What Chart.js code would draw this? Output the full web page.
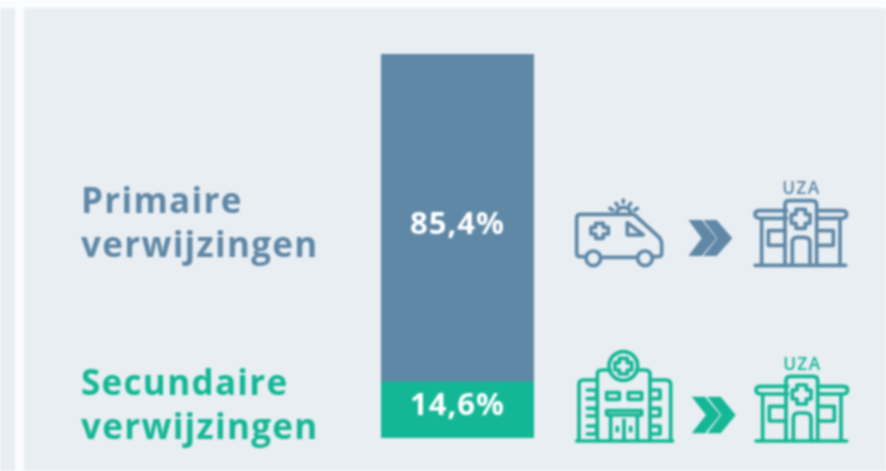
<!DOCTYPE html>
<html>
<head>
<meta charset="utf-8">
<script src="https://cdn.jsdelivr.net/npm/chart.js@4"></script>
<style>
  html, body { margin: 0; background: #fff; }
  #page { position: relative; width: 886px; height: 471px; overflow: hidden; background: #fbfcfd; filter: blur(0.8px); }
  .panel { position: absolute; top: 8px; bottom: 0; background: #e9eef3; }
  #chart { position: absolute; left: 0; top: 0; }
  .cat { position: absolute; left: 81px; font: 700 35px/44px "Open Sans", sans-serif; letter-spacing: 1.3px; }
  .icon { position: absolute; left: 560px; width: 300px; height: 110px; }
  .icon * { fill: none; stroke: currentColor; stroke-width: 11; stroke-linejoin: round; stroke-linecap: round; }
  .icon polygon { fill: currentColor; stroke: none; }
  #uza text { fill: currentColor; stroke: none; font: 600 52px "Open Sans", sans-serif; letter-spacing: 4px; text-anchor: middle; }
</style>
</head>
<body>
<div id="page">
  <div class="panel" style="left:0;width:15px"></div>
  <div class="panel" style="left:24px;right:0"></div>
  <canvas id="chart" width="886" height="471"></canvas>
  <div class="cat" style="top:178px;color:#5f88a6">Primaire<br>verwijzingen</div>
  <div class="cat" style="top:360px;color:#14b795">Secundaire<br>verwijzingen</div>

  <svg width="0" height="0" style="position:absolute">
    <symbol id="uza" viewBox="0 0 900 330" overflow="visible">
      <text x="724" y="72">UZA</text>
      <path d="M680 122H600Q585 122 585 133T600 145H680M770 122H845Q860 122 860 133T845 145H770"/>
      <path d="M675 285V105Q675 92 688 92H757Q770 92 770 105V285"/>
      <path d="M708 118H736V133H750V160H736V175H708V160H694V133H708Z"/>
      <path d="M605 150V285M840 150V285M585 286H857"/>
      <path d="M675 182H625V226H675M770 182H820V226H770"/>
      <path d="M697 285V218Q697 202 712 202H733Q750 202 750 218V285"/>
    </symbol>
  </svg>

  <svg class="icon" style="top:170px;color:#5f88a6" viewBox="0 0 900 330">
    <path d="M70 260H60Q50 260 50 250V145Q50 133 62 133H222L295 200Q305 210 305 222V250Q305 260 295 260H280M125 262H232"/>
    <circle cx="100" cy="265" r="22"/><circle cx="255" cy="265" r="22"/>
    <path d="M202 158L250 195H202Z"/>
    <path d="M107 160H130V172H145V192H130V205H107V192H93V172H107Z"/>
    <path d="M170 130Q172 112 190 112Q210 112 212 130M150 115L158 120M168 100L172 106M190 90V97M212 100L208 106M232 115L224 120"/>
    <polygon points="385,150 425,150 470,205 425,258 385,258 425,205"/>
    <polygon points="430,150 470,150 517,205 470,258 430,258 472,205"/>
    <use href="#uza" width="900" height="330"/>
  </svg>

  <svg class="icon" style="top:340px;color:#14b795" viewBox="0 0 900 330">
    <circle cx="190" cy="78" r="43"/>
    <path d="M178 55H202V68H215V90H202V102H178V90H165V68H178Z"/>
    <path d="M150 90H125Q112 90 112 103V300M230 90H255Q270 90 270 103V300"/>
    <path d="M112 120H70Q57 120 57 133V300M270 120H318Q332 120 332 133V300M50 303H338"/>
    <path d="M82 150H110V176H82M82 205H110V228H82M82 258H110V282H82M272 150H300V176H272M272 205H300V228H272M272 258H300V282H272"/>
    <path d="M140 158H178V178H140ZM205 158H245V178H205ZM140 212H245V225H140Z"/>
    <path d="M152 228V300M232 228V300M192 240V300M172 262V272M212 262V272"/>
    <polygon points="395,170 435,170 480,225 435,280 395,280 438,225"/>
    <polygon points="442,170 482,170 527,225 482,280 442,280 484,225"/>
    <use href="#uza" y="17" x="3" width="900" height="330"/>
  </svg>
</div>

<script>
const categories = ['Verwijzingen'];
const primair = [85.4];
const secundair = [14.6];
const primairLabel = ['85,4%'];
const secundairLabel = ['14,6%'];

// white percentages in each segment, nudged to where the reference has them
const barLabels = {
  id: 'barLabels',
  afterDatasetsDraw(chart) {
    const { ctx } = chart;
    ctx.save();
    ctx.fillStyle = '#fff';
    ctx.font = '700 31px "Open Sans", sans-serif';
    ctx.letterSpacing = '1px';
    ctx.textAlign = 'center';
    ctx.textBaseline = 'middle';
    chart.data.datasets.forEach((ds, i) => {
      const bar = chart.getDatasetMeta(i).data[0];
      ctx.fillText(ds.labelText[0], bar.x, (bar.y + bar.base) / 2 + ds.labelNudge);
    });
    ctx.restore();
  }
};

new Chart(document.getElementById('chart'), {
  type: 'bar',
  data: {
    labels: categories,
    datasets: [
      { label: 'Secundaire verwijzingen', data: secundair, labelText: secundairLabel, labelNudge: -4, backgroundColor: '#14b795' },
      { label: 'Primaire verwijzingen', data: primair, labelText: primairLabel, labelNudge: 7, backgroundColor: '#5f88a6' }
    ]
  },
  options: {
    responsive: false,
    animation: false,
    layout: { padding: { left: 381, right: 352, top: 54, bottom: 33 } },
    datasets: { bar: { barPercentage: 1, categoryPercentage: 1 } },
    plugins: { legend: { display: false }, tooltip: { enabled: false } },
    scales: {
      x: { stacked: true, display: false },
      y: { stacked: true, display: false, min: 0, max: 100 }
    }
  },
  plugins: [barLabels]
});
</script>
</body>
</html>
